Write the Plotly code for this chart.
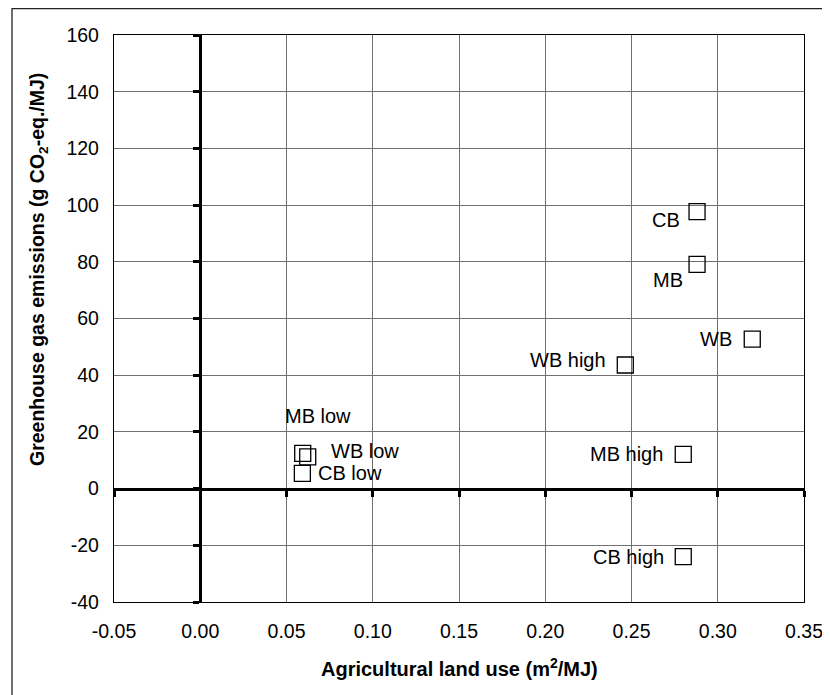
import plotly.graph_objects as go

# ---- data ----
labels = ["CB", "MB", "WB", "WB high", "MB high", "CB high", "MB low", "WB low", "CB low"]
land_use = [0.288, 0.288, 0.320, 0.2464, 0.280, 0.280, 0.0594, 0.0623, 0.0592]
ghg = [97.7, 79.1, 52.7, 43.6, 12.1, -24.0, 12.4, 11.2, 5.4]

x_ticks = [-0.05, 0.0, 0.05, 0.10, 0.15, 0.20, 0.25, 0.30, 0.35]
x_tick_text = ["-0.05", "0.00", "0.05", "0.10", "0.15", "0.20", "0.25", "0.30", "0.35"]
y_ticks = [-40, -20, 0, 20, 40, 60, 80, 100, 120, 140, 160]
y_tick_text = ["-40", "-20", "0", "20", "40", "60", "80", "100", "120", "140", "160"]

x_range = [-0.05, 0.35]
y_range = [-40, 160]

# label placement (pixel offsets relative to the marker)
label_anchor = ["right", "right", "right", "right", "right", "right", "center", "left", "left"]
label_dx = [-15, -12, -18, -17, -18, -17, 15, 21, 14]
label_dy = [-8, -16, 0, 5, 0, 0, 37, 6, 0]

FONT = "Liberation Sans, Arial, sans-serif"
OFF = 8  # page body margin
W, H = 830 - OFF, 695 - OFF
ML, MR, MT, MB = 114 - OFF, 26, 35 - OFF, 93
pw, ph = W - ML - MR, H - MT - MB

fig = go.Figure()
fig.add_trace(go.Scatter(
    x=land_use, y=ghg, mode="markers",
    marker=dict(symbol="square-open", size=16, color="black", line=dict(width=1.3, color="black")),
    hoverinfo="text", text=labels, showlegend=False,
))
# empty trace binding the zero-crossing axes
fig.add_trace(go.Scatter(x=[], y=[], xaxis="x2", yaxis="y2", showlegend=False))

for lab, xv, yv, anc, dx, dy in zip(labels, land_use, ghg, label_anchor, label_dx, label_dy):
    fig.add_annotation(x=xv, y=yv, text=lab, showarrow=False, xanchor=anc, yanchor="middle",
                       xshift=dx, yshift=dy, font=dict(family=FONT, size=20, color="black"))

# axis titles (positions in page pixels converted to paper fractions)
fig.add_annotation(xref="paper", yref="paper", x=0.5, y=-(668 - OFF - (MT + ph)) / ph,
                   text="<b>Agricultural land use (m<sup>2</sup>/MJ)</b>", showarrow=False,
                   xanchor="center", yanchor="middle", font=dict(family=FONT, size=20, color="black"))
fig.add_annotation(xref="paper", yref="paper", x=(38 - OFF - ML) / pw, y=1 - (270 - OFF - MT) / ph,
                   text="<b>Greenhouse gas emissions (g CO<sub>2</sub>-eq./MJ)</b>", showarrow=False,
                   textangle=-90, xanchor="center", yanchor="middle",
                   font=dict(family=FONT, size=19.5, color="black"))

# outer frame (left and top edges)
fig.add_shape(type="rect", xref="paper", yref="paper",
              x0=(12 - OFF - ML) / pw, x1=(W + 20 - ML) / pw,
              y0=-(H + 20 - MT - ph) / ph, y1=1 + (MT - 0.7) / ph,
              line=dict(color="#222", width=1.3), layer="below")

tick_font = dict(family=FONT, size=19.5, color="black")
fig.update_layout(
    width=W, height=H,
    margin=dict(l=ML, r=MR, t=MT, b=MB, autoexpand=False),
    paper_bgcolor="white", plot_bgcolor="white",
    font=dict(family=FONT, color="black"),
    xaxis=dict(range=x_range, tickmode="array", tickvals=x_ticks, ticktext=x_tick_text,
               showgrid=True, gridcolor="#707070", gridwidth=1,
               showline=True, mirror=True, linecolor="black", linewidth=1.3,
               zeroline=False, ticks="", tickfont=tick_font, ticklabelstandoff=11,
               automargin=False),
    yaxis=dict(range=y_range, tickmode="array", tickvals=y_ticks, ticktext=y_tick_text,
               showgrid=True, gridcolor="#707070", gridwidth=1,
               showline=True, mirror=True, linecolor="black", linewidth=1.3,
               zeroline=False, ticks="", tickfont=tick_font, ticklabelstandoff=10,
               automargin=False),
    xaxis2=dict(overlaying="x", anchor="free", position=(0 - y_range[0]) / (y_range[1] - y_range[0]),
                range=x_range, tickmode="array", tickvals=x_ticks, side="bottom",
                showline=True, linecolor="black", linewidth=3,
                ticks="outside", ticklen=6, tickwidth=3, tickcolor="black",
                showticklabels=False, showgrid=False, zeroline=False, automargin=False),
    yaxis2=dict(overlaying="y", anchor="free", position=(0 - x_range[0]) / (x_range[1] - x_range[0]),
                range=y_range, tickmode="array", tickvals=y_ticks, side="left",
                showline=True, linecolor="black", linewidth=3,
                ticks="outside", ticklen=6, tickwidth=3, tickcolor="black",
                showticklabels=False, showgrid=False, zeroline=False, automargin=False),
)

fig.write_html("out.html")
